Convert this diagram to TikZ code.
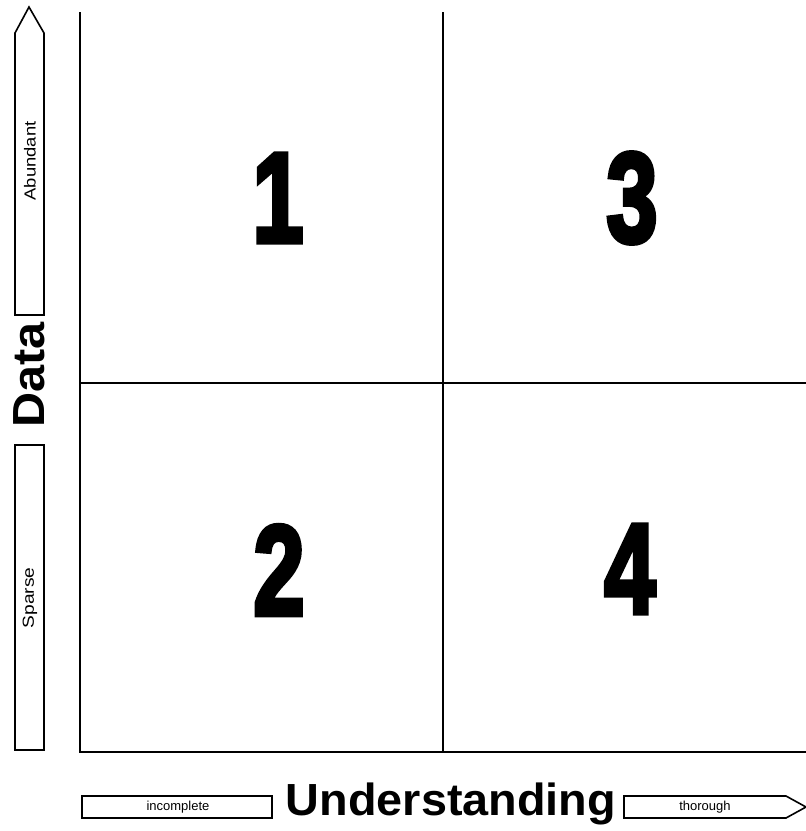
\documentclass[tikz,border=0pt]{standalone}
\usepackage{fontspec}
\setmainfont{Liberation Sans}
\newfontfamily\digitfont{Liberation Sans}[UprightFont={* Bold},FakeBold=4]
\begin{document}
\begin{tikzpicture}[x=1pt,y=-1pt,
  gridline/.style={line width=1.8pt},
  axisbox/.style={draw,line width=1.6pt,fill=white},
  smalllab/.style={font=\fontsize{16}{16}\selectfont,inner sep=0pt},
  botlab/.style={font=\fontsize{13}{13}\selectfont,inner sep=0pt},
  biglab/.style={font=\fontsize{45}{45}\selectfont\bfseries,inner sep=0pt},
  digit/.style={font=\fontsize{128}{128}\digitfont,inner sep=0pt}]
\useasboundingbox (0,0) rectangle (806,831);
% grid
\coordinate (gtl) at (80,12);
\coordinate (gbl) at (80,752);
\coordinate (gbr) at (806,752);
\coordinate (gmt) at (443,12);
\coordinate (gmb) at (443,752);
\coordinate (gml) at (80,383);
\coordinate (gmr) at (806,383);
\draw[gridline] (gtl) -- (gbl) -- (gbr);
\draw[gridline] (gmt) -- (gmb);
\draw[gridline] (gml) -- (gmr);
% digits
\node[digit] (n1) at (278,198) {\scalebox{0.72}[1]{1}};
\node[digit] (n3) at (632,198) {\scalebox{0.72}[1]{3}};
\node[digit] (n2) at (279,570) {\scalebox{0.72}[1]{2}};
\node[digit] (n4) at (630,569) {\scalebox{0.72}[1]{4}};
% vertical axis
\draw[axisbox] (15,315) -- (15,33) -- (29,7) -- (44,33) -- (44,315) -- cycle;
\draw[axisbox] (15,445) rectangle (44,750);
\node[smalllab,rotate=90] (ab) at (30,161) {\scalebox{1.15}[1]{Abundant}};
\node[smalllab,rotate=90] (sp) at (30,598) {\scalebox{1.2}[1]{Sparse}};
\node[biglab,rotate=90] (data) at (29,375) {\scalebox{1.08}[1]{Data}};
% horizontal axis
\draw[axisbox] (82,796) rectangle (272,818);
\draw[axisbox] (624,796) -- (786,796) -- (806,807) -- (786,818) -- (624,818) -- cycle;
\node[botlab] (inc) at (178,807) {incomplete};
\node[botlab] (thr) at (705,807) {thorough};
\node[biglab,anchor=base] (und) at (451,815) {\scalebox{1.04}[1]{Understanding}};
\end{tikzpicture}
\end{document}
